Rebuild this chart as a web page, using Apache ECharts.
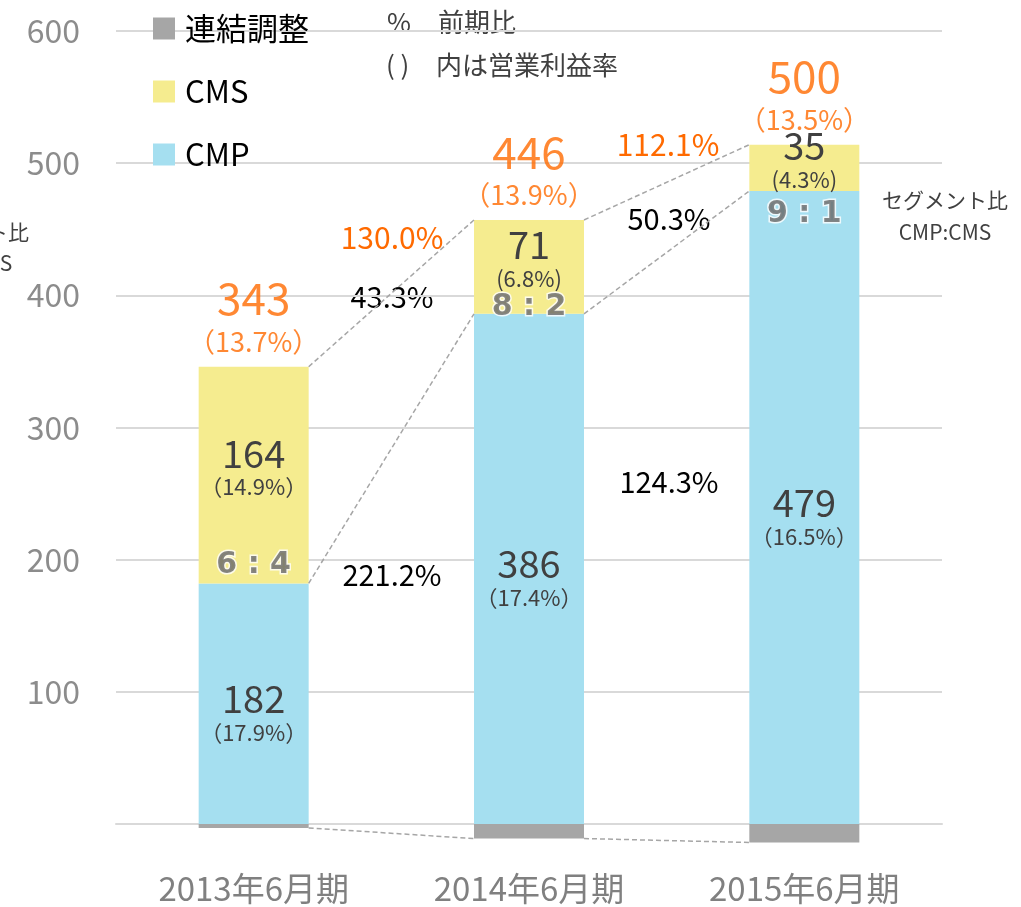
<!DOCTYPE html>
<html>
<head>
<meta charset="UTF-8">
<title>セグメント別売上</title>
<script src="https://cdn.jsdelivr.net/npm/echarts@6/dist/echarts.min.js"></script>
<style>
  html, body { margin: 0; padding: 0; background: #fff; }
  #main { width: 1021px; height: 907px; }
</style>
</head>
<body>
<div id="main"></div>
<script type="text/javascript">
// データ
var years = ['2013年6月期', '2014年6月期', '2015年6月期'];
var cmp = [182, 386, 479];
var cms = [164, 71, 35];
var adj = [-3, -11, -14];
var totals = [343, 446, 500];
var cmpMargin = ['（17.9%）', '（17.4%）', '（16.5%）'];
var cmsMargin = ['（14.9%）', '(6.8%)', '(4.3%)'];
var totalMargin = ['（13.7%）', '（13.9%）', '（13.5%）'];
var ratios = ['6 : 4', '8 : 2', '9 : 1'];
var growthTotal = ['130.0%', '112.1%'];
var growthCms = ['43.3%', '50.3%'];
var growthCmp = ['221.2%', '124.3%'];
var yTicks = [100, 200, 300, 400, 500, 600];

var FONT = '"Noto Sans CJK JP", "Noto Sans", sans-serif';
var ORANGE = '#ff6a00';
var DARK = '#404040';
var BAR_W = 110;

// 積み上げの上端
var stackTop = [];
for (var i = 0; i < cmp.length; i++) {
  stackTop.push(cmp[i] + cms[i]);
}

// 棒の間の破線用 [i, 左の値, 右の値]
function pairs(arr) {
  var res = [];
  for (var i = 0; i < arr.length - 1; i++) {
    res.push([i, arr[i], arr[i + 1]]);
  }
  return res;
}

function connector(arr) {
  return {
    type: 'custom',
    silent: true,
    z: 5,
    data: pairs(arr),
    renderItem: function (params, api) {
      var i = api.value(0);
      var p1 = api.coord([i, api.value(1)]);
      var p2 = api.coord([i + 1, api.value(2)]);
      return {
        type: 'line',
        shape: { x1: p1[0] + BAR_W / 2, y1: p1[1], x2: p2[0] - BAR_W / 2, y2: p2[1] },
        style: { stroke: '#a6a6a6', lineWidth: 1.5, lineDash: [5, 3] }
      };
    }
  };
}

var valueRich = {
  v: { fontSize: 38, lineHeight: 42, color: DARK, fontFamily: FONT },
  m: { fontSize: 22, lineHeight: 26, color: DARK, fontFamily: FONT }
};

function txt(x, y, s, color, size) {
  return {
    type: 'text', x: x, y: y,
    style: { text: s, textAlign: 'center', textVerticalAlign: 'middle', fill: color, font: size + 'px ' + FONT }
  };
}

var option = {
  animation: false,
  textStyle: { fontFamily: FONT },
  grid: { left: 116, right: 79, top: 31, bottom: 83 },
  legend: {
    orient: 'vertical',
    left: 148,
    top: 8,
    itemWidth: 22,
    itemHeight: 22,
    itemGap: 32,
    icon: 'rect',
    data: ['連結調整', 'CMS', 'CMP'],
    textStyle: { fontSize: 31, color: '#000', fontFamily: FONT, padding: [0, 0, 0, 5] }
  },
  xAxis: {
    type: 'category',
    data: years,
    axisTick: { show: false },
    axisLine: { lineStyle: { color: '#d9d9d9', width: 2 } },
    axisLabel: { fontSize: 33, color: '#808080', margin: 48, fontFamily: FONT }
  },
  yAxis: {
    type: 'value',
    min: 0,
    max: 600,
    interval: 100,
    axisLine: { show: false },
    axisTick: { show: false },
    splitLine: { lineStyle: { color: '#d9d9d9', width: 2 } },
    axisLabel: {
      fontSize: 32, color: '#8c8c8c', margin: 36, fontFamily: FONT,
      padding: [0, 0, 6, 0],
      formatter: function (v) { return yTicks.indexOf(v) >= 0 ? String(v) : ''; }
    }
  },
  series: [
    {
      name: 'CMP',
      type: 'bar',
      stack: 'seg',
      barWidth: BAR_W,
      clip: false,
      itemStyle: { color: '#a5dff0' },
      data: cmp,
      label: {
        show: true,
        position: 'inside',
        offset: [0, 8],
        formatter: function (p) { return '{v|' + p.value + '}\n{m|' + cmpMargin[p.dataIndex] + '}'; },
        rich: valueRich
      }
    },
    {
      name: 'CMS',
      type: 'bar',
      stack: 'seg',
      barWidth: BAR_W,
      clip: false,
      itemStyle: { color: '#f5ec8f' },
      data: cms,
      label: {
        show: true,
        position: 'inside',
        offset: [0, -9],
        formatter: function (p) { return '{v|' + p.value + '}\n{m|' + cmsMargin[p.dataIndex] + '}'; },
        rich: valueRich
      }
    },
    {
      name: '連結調整',
      type: 'bar',
      stack: 'seg',
      barWidth: BAR_W,
      clip: false,
      itemStyle: { color: '#a6a6a6' },
      data: adj
    },
    // 合計と営業利益率
    {
      type: 'scatter',
      symbolSize: 0,
      silent: true,
      data: stackTop,
      label: {
        show: true,
        position: 'top',
        distance: 8,
        formatter: function (p) {
          return '{t|' + totals[p.dataIndex] + '}\n{p|' + totalMargin[p.dataIndex] + '}';
        },
        rich: {
          t: { fontSize: 44, lineHeight: 52, color: ORANGE, fontFamily: FONT },
          p: { fontSize: 27, lineHeight: 34, color: ORANGE, fontFamily: FONT }
        }
      }
    },
    // セグメント比
    {
      type: 'scatter',
      symbolSize: 0,
      silent: true,
      z: 10,
      data: [
        { value: cmp[0], label: { offset: [0, -18] } },
        { value: cmp[1], label: { offset: [0, -7] } },
        { value: cmp[2], label: { offset: [0, 23] } }
      ],
      label: {
        show: true,
        position: 'inside',
        formatter: function (p) { return ratios[p.dataIndex]; },
        fontSize: 30,
        fontWeight: 'bold',
        color: '#666666',
        textBorderColor: '#ffffff',
        textBorderWidth: 3,
        fontFamily: '"DejaVu Sans", sans-serif'
      }
    },
    connector(stackTop),
    connector(cmp),
    connector(adj)
  ],
  graphic: [
    { type: 'text', x: 387, y: 22, style: { text: '%', textVerticalAlign: 'middle', fill: DARK, font: '26px ' + FONT } },
    { type: 'text', x: 438, y: 22, style: { text: '前期比', textVerticalAlign: 'middle', fill: DARK, font: '26px ' + FONT } },
    { type: 'text', x: 386, y: 65, style: { text: '( )', textVerticalAlign: 'middle', fill: DARK, font: '26px ' + FONT } },
    { type: 'text', x: 436, y: 65, style: { text: '内は営業利益率', textVerticalAlign: 'middle', fill: DARK, font: '26px ' + FONT } },
    txt(945, 200, 'セグメント比', DARK, 21),
    txt(945, 232, 'CMP:CMS', DARK, 21),
    txt(-34, 232, 'セグメント比', DARK, 21),
    txt(-34, 263, 'CMP:CMS', DARK, 21),
    txt(392, 238, growthTotal[0], ORANGE, 30),
    txt(392, 297, growthCms[0], '#000', 29),
    txt(392, 575, growthCmp[0], '#000', 29),
    txt(668, 145, growthTotal[1], ORANGE, 30),
    txt(669, 219, growthCms[1], '#000', 29),
    txt(669, 482, growthCmp[1], '#000', 29)
  ]
};

var chart = echarts.init(document.getElementById('main'));
chart.setOption(option);
</script>
</body>
</html>
